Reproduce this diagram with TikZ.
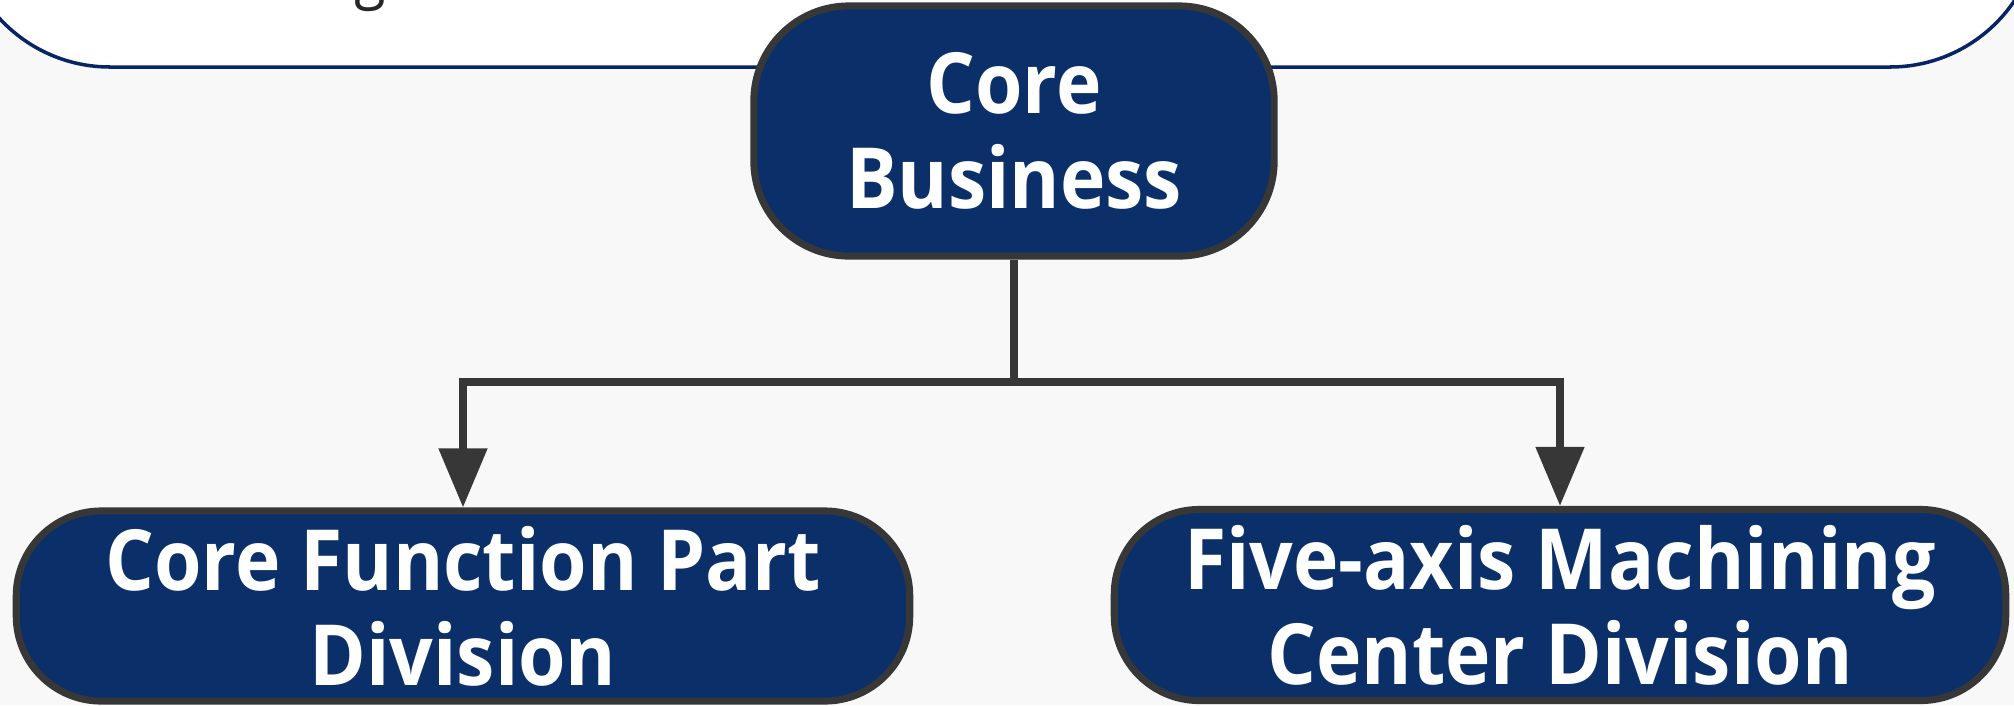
\documentclass[tikz,border=0pt]{standalone}
\usepackage{fontspec}
\setmainfont{Open Sans}[FakeStretch=0.91]
\usetikzlibrary{arrows.meta, positioning}
\definecolor{navy}{RGB}{11,48,105}
\definecolor{rim}{RGB}{55,55,55}
\definecolor{paper}{RGB}{248,248,248}
\definecolor{bannerline}{RGB}{8,36,100}
\tikzstyle{unit} = [draw=rim, fill=navy, line width=2pt, text=white, font=\fontsize{24}{27}\selectfont\bfseries, align=center, rounded corners=0.85cm]
\tikzstyle{link} = [draw=rim, line width=2.3pt]

\begin{document}
\begin{tikzpicture}[x=0.01cm, y=-0.01cm, >={Triangle[width=4.7mm,length=5.9mm]}]
  \useasboundingbox (0,0) rectangle (2014,705);
  \clip (0,0) rectangle (2014,705);
  \fill[paper] (0,0) rectangle (2014,705);
  % banner cut off at the top
  \draw[fill=white, draw=bannerline, line width=1pt, rounded corners=1.5cm] (-40,-300) rectangle (2040,67);
  \node[anchor=base, font=\fontsize{18}{20}\selectfont, text=black!85] (title) at (370,-4) {g};
  \node[unit, minimum width=5.2cm, minimum height=2.5cm, rounded corners=0.95cm] (core) at (1014,131) {Core\\Business};
  \node[unit, minimum width=8.93cm, minimum height=1.9cm] (part) at (463,606) {Core Function Part\\Division};
  \node[unit, minimum width=8.91cm, minimum height=1.91cm] (machining) at (1560,605) {Five-axis Machining\\Center Division};
  \coordinate (split) at (1014,382);
  \draw[link] (core) -- (split);
  \draw[link, ->] (split) -| (part);
  \draw[link, ->] (split) -| (machining);
\end{tikzpicture}
\end{document}
